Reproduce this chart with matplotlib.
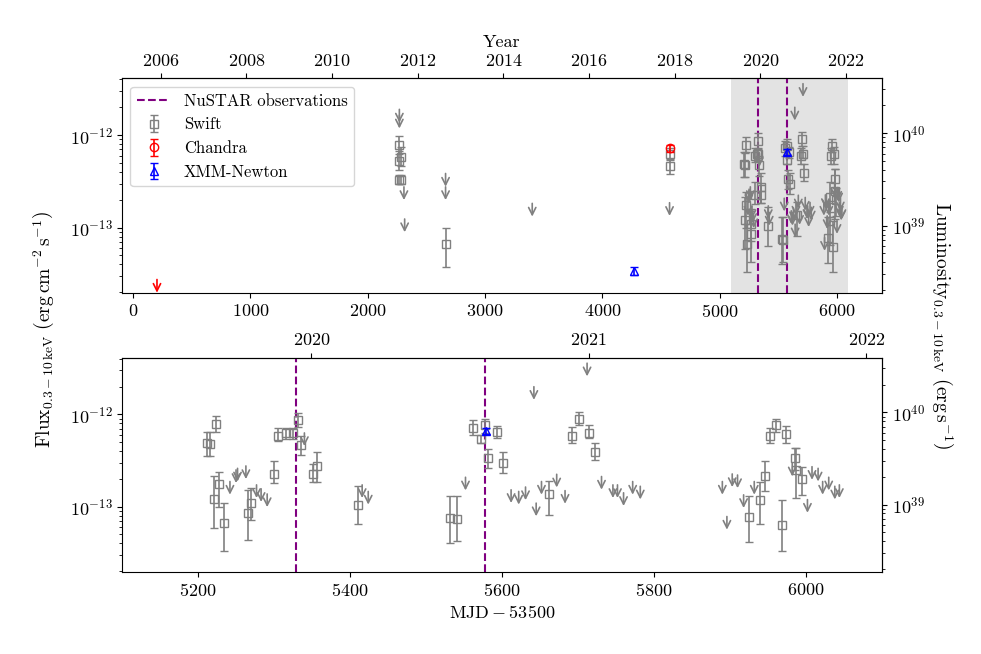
import numpy as np
import matplotlib
matplotlib.use('Agg')
import matplotlib.pyplot as plt

plt.rcParams['font.family'] = 'serif'
plt.rcParams['font.serif'] = ['cmr10', 'DejaVu Serif']
plt.rcParams['mathtext.fontset'] = 'cm'
plt.rcParams['axes.formatter.use_mathtext'] = True
plt.rcParams['font.size'] = 13

# Swift detections: MJD-53500, flux, lower bound, upper bound (erg/cm2/s)
swift_mjd = [2266, 2280, 2266, 2266, 2280, 2664, 4574, 4574,
             5212, 5216, 5223, 5221, 5228, 5234, 5266, 5270, 5300, 5305,
             5316, 5325, 5331, 5336, 5351, 5356, 5410, 5531, 5541, 5562,
             5572, 5578, 5582, 5593, 5601, 5662, 5692, 5702, 5715, 5722,
             5925, 5939, 5946, 5953, 5960, 5968, 5974, 5986, 5987, 5995]
swift_flux = [7.8e-13, 5.8e-13, 5.3e-13, 3.3e-13, 3.3e-13, 6.6e-14, 6.3e-13, 4.6e-13,
              4.85e-13, 4.75e-13, 7.85e-13, 1.22e-13, 1.75e-13, 6.6e-14, 8.5e-14, 1.1e-13, 2.26e-13, 5.9e-13,
              6.3e-13, 6.3e-13, 8.7e-13, 4.7e-13, 2.25e-13, 2.76e-13, 1.04e-13, 7.6e-14, 7.3e-14, 7.2e-13,
              5.4e-13, 7.7e-13, 3.35e-13, 6.5e-13, 3.0e-13, 1.36e-13, 5.9e-13, 9.0e-13, 6.3e-13, 3.9e-13,
              7.7e-14, 1.19e-13, 2.15e-13, 5.9e-13, 7.6e-13, 6.25e-14, 6.2e-13, 3.34e-13, 2.5e-13, 1.98e-13]
swift_lo = [6.3e-13, 4.6e-13, 4.2e-13, 3.0e-13, 3.0e-13, 3.8e-14, 5.5e-13, 3.8e-13,
            3.54e-13, 3.5e-13, 6.5e-13, 5.9e-14, 9.8e-14, 3.3e-14, 4.3e-14, 7.1e-14, 1.8e-13, 5.15e-13,
            5.4e-13, 5.4e-13, 7.3e-13, 3.6e-13, 1.85e-13, 1.85e-13, 6.4e-14, 4.0e-14, 4.2e-14, 6.0e-13,
            4.9e-13, 6.3e-13, 2.6e-13, 5.6e-13, 2.33e-13, 8.2e-14, 4.85e-13, 7.6e-13, 5.6e-13, 3.2e-13,
            4.1e-14, 6.5e-14, 1.46e-13, 4.85e-13, 6.5e-13, 3.3e-14, 4.9e-13, 2.5e-13, 1.25e-13, 1.32e-13]
swift_hi = [9.8e-13, 7.4e-13, 6.8e-13, 3.7e-13, 3.7e-13, 9.8e-14, 7.2e-13, 5.4e-13,
            6.5e-13, 6.4e-13, 9.6e-13, 2.15e-13, 2.4e-13, 1.1e-13, 1.5e-13, 1.6e-13, 3.13e-13, 7.2e-13,
            7.1e-13, 7.1e-13, 1.05e-12, 5.9e-13, 2.9e-13, 3.9e-13, 1.66e-13, 1.3e-13, 1.3e-13, 8.7e-13,
            6.0e-13, 9.0e-13, 4.2e-13, 7.5e-13, 3.9e-13, 1.9e-13, 7.3e-13, 1.07e-12, 7.6e-13, 4.9e-13,
            1.3e-13, 1.87e-13, 3.1e-13, 7.2e-13, 9.0e-13, 1.19e-13, 7.5e-13, 4.35e-13, 4.3e-13, 2.7e-13]

# Swift upper limits
swift_ul_mjd = [2270, 2270, 2309, 2315, 2664, 2664, 3403, 4574,
                5242, 5250, 5252, 5263, 5277, 5283, 5291, 5340, 5416, 5424, 5552,
                5612, 5622, 5631, 5642, 5645, 5652, 5672, 5683, 5712, 5731, 5746,
                5752, 5760, 5772, 5782, 5890, 5896, 5903, 5910, 5918, 5932, 5982,
                6002, 6008, 6016, 6022, 6030, 6038, 6044]
swift_ul = [1.9e-12, 1.64e-12, 2.76e-13, 1.24e-13, 3.85e-13, 2.76e-13, 1.83e-13, 1.86e-13,
            1.87e-13, 2.5e-13, 2.6e-13, 2.76e-13, 1.72e-13, 1.56e-13, 1.37e-13, 6.3e-13, 1.72e-13, 1.46e-13, 2.08e-13,
            1.52e-13, 1.46e-13, 1.63e-13, 2.0e-12, 1.09e-13, 1.87e-13, 2.24e-13, 1.49e-13, 3.6e-12, 2.12e-13, 1.72e-13,
            1.72e-13, 1.41e-13, 1.87e-13, 1.66e-13, 1.87e-13, 7.8e-14, 2.26e-13, 2.2e-13, 1.34e-13, 1.87e-13, 2.95e-13,
            1.19e-13, 2.71e-13, 2.6e-13, 1.87e-13, 2.08e-13, 1.66e-13, 1.72e-13]

# Chandra
chandra_mjd = [4582]
chandra_flux = [7.2e-13]
chandra_err = [0.6e-13]
chandra_ul_mjd = [203]
chandra_ul = [2.75e-14]

# XMM-Newton
xmm_mjd = [4267, 5579]
xmm_flux = [3.4e-14, 6.65e-13]
xmm_err = [0.35e-14, 0.5e-13]

# NuSTAR epochs
nustar_mjd = [5329, 5578]

lum_factor = 9.5e51  # 4 pi d^2


def mjd2yr(x):
    return 2000 + (np.asarray(x) + 53500 - 51544) / 365.25


def yr2mjd(y):
    return (np.asarray(y) - 2000) * 365.25 + 51544 - 53500


def arrows(ax, xs, ys, color):
    for x, y in zip(xs, ys):
        ax.annotate('', xy=(x, y * 0.72), xytext=(x, y),
                    arrowprops=dict(arrowstyle='->', color=color, lw=1.2,
                                    shrinkA=0, shrinkB=0), zorder=3)


def draw(ax):
    sm = np.array(swift_mjd)
    sf = np.array(swift_flux)
    yerr = [sf - np.array(swift_lo), np.array(swift_hi) - sf]
    ax.errorbar(sm, sf, yerr=yerr, fmt='s', color='grey', mfc='none', ms=6,
                capsize=3, lw=1.2, label='Swift', zorder=3)
    arrows(ax, swift_ul_mjd, swift_ul, 'grey')
    ax.errorbar(chandra_mjd, chandra_flux, yerr=chandra_err, fmt='o', color='red',
                mfc='none', ms=6, capsize=3, lw=1.2, label='Chandra', zorder=4)
    arrows(ax, chandra_ul_mjd, chandra_ul, 'red')
    ax.errorbar(xmm_mjd, xmm_flux, yerr=xmm_err, fmt='^', color='blue',
                mfc='none', ms=6, capsize=3, lw=1.2, label='XMM-Newton', zorder=5)
    for i, m in enumerate(nustar_mjd):
        ax.axvline(m, color='purple', ls='--', lw=1.5,
                   label='NuSTAR observations' if i == 0 else None, zorder=2)
    ax.set_yscale('log')
    ax.set_ylim(1.95e-14, 4.1e-12)
    sec = ax.secondary_yaxis('right', functions=(lambda f: f * lum_factor,
                                                 lambda l: l / lum_factor))
    return sec


fig = plt.figure(figsize=(9.81, 6.54), dpi=100)
ax1 = fig.add_axes([0.1244, 0.5515, 0.7746, 0.3285])
ax2 = fig.add_axes([0.1244, 0.1254, 0.7746, 0.3272])

draw(ax1)
ax1.axvspan(5100, 6100, color='grey', alpha=0.22, lw=0, zorder=1)
ax1.set_xlim(-95, 6385)
top1 = ax1.secondary_xaxis('top', functions=(mjd2yr, yr2mjd))
top1.set_xticks(np.arange(2006, 2023, 2))
top1.set_xlabel('Year')

h, l = ax1.get_legend_handles_labels()
order = [l.index('NuSTAR observations'), l.index('Swift'), l.index('Chandra'), l.index('XMM-Newton')]
ax1.legend([h[i] for i in order], [l[i] for i in order], loc='upper left', fontsize=12)

draw(ax2)
ax2.set_xlim(5100, 6100)
top2 = ax2.secondary_xaxis('top', functions=(mjd2yr, yr2mjd))
top2.set_xticks([2020, 2021, 2022])
ax2.set_xlabel(r'$\mathrm{MJD} - 53500$')

fig.text(0.045, 0.497, r'$\mathrm{Flux}_{0.3-10\,\mathrm{keV}}\ \left(\mathrm{erg\,cm^{-2}\,s^{-1}}\right)$',
         rotation=90, ha='center', va='center', fontsize=14)
fig.text(0.96, 0.503, r'$\mathrm{Luminosity}_{0.3-10\,\mathrm{keV}}\ \left(\mathrm{erg\,s^{-1}}\right)$',
         rotation=270, ha='center', va='center', fontsize=14)

fig.savefig('out.png', dpi=100)
